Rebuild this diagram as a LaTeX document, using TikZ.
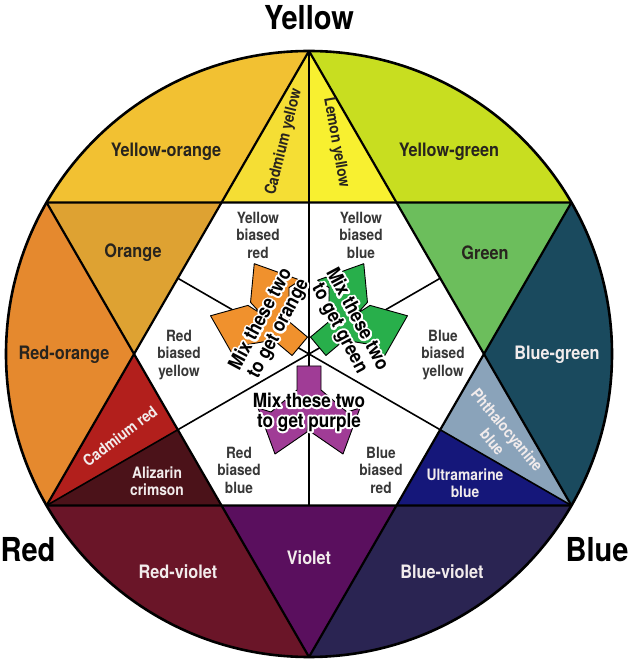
\documentclass[tikz,border=0pt]{standalone}
\usepackage{fontspec}
\setmainfont{TeX Gyre Heros}
\newfontfamily\headfont{TeX Gyre Heros}[FakeStretch=0.88]
\definecolor{cYO}{RGB}{242,193,50}
\definecolor{cCY}{RGB}{245,222,52}
\definecolor{cLY}{RGB}{248,240,48}
\definecolor{cYG}{RGB}{200,222,32}
\definecolor{cOR}{RGB}{222,162,50}
\definecolor{cGR}{RGB}{108,190,92}
\definecolor{cRO}{RGB}{229,137,46}
\definecolor{cBG}{RGB}{26,74,94}
\definecolor{cCR}{RGB}{178,31,28}
\definecolor{cAC}{RGB}{75,18,25}
\definecolor{cPB}{RGB}{138,163,186}
\definecolor{cUB}{RGB}{21,23,122}
\definecolor{cRV}{RGB}{106,21,40}
\definecolor{cVI}{RGB}{90,15,94}
\definecolor{cBV}{RGB}{42,36,82}
\definecolor{arrO}{RGB}{240,145,45}
\definecolor{arrG}{RGB}{40,175,75}
\definecolor{arrP}{RGB}{160,60,150}
\definecolor{txtdark}{RGB}{40,36,30}
\definecolor{txtgray}{RGB}{55,55,55}
\definecolor{txtlight}{RGB}{242,236,236}
\newcommand\halotext[1]{\rlap{\special{pdf:literal direct 1 Tr 1 1 1 RG 4 w 1 j 1 J}#1\special{pdf:literal direct 0 Tr 0 0 0 RG}}#1}
\begin{document}
\begin{tikzpicture}[x=1pt,y=1pt,
  edge/.style={draw=black,line width=2.2pt,line join=round},
  thinline/.style={draw=black,line width=1.6pt},
  lab/.style={font=\headfont\bfseries\fontsize{18.5}{20}\selectfont,text=txtdark,align=center,inner sep=0pt},
  small/.style={font=\headfont\bfseries\fontsize{15.7}{17}\selectfont,align=center,inner sep=0pt},
  bias/.style={font=\headfont\bfseries\fontsize{15.5}{17.5}\selectfont,text=txtgray,align=center,inner sep=0pt},
  primary/.style={font=\headfont\bfseries\fontsize{33}{36}\selectfont,text=black,inner sep=0pt},
  mix/.style={font=\headfont\bfseries\fontsize{19.5}{20}\selectfont,align=center,inner sep=0pt},
  arrowshape/.style={draw=black,line width=0.9pt,line join=round},
  fork/.pic={\path[pic actions] (12,-12) -- (36,-12) -- (58,-38) -- (54,-51) -- (100,-34) -- (78,-2) -- (63,0) -- (78,2) -- (100,34) -- (54,51) -- (58,38) -- (36,12) -- (12,12) -- cycle;}
]
\useasboundingbox (-309,-306) rectangle (321,354);
\fill[white] (-309,-306) rectangle (321,354);
\def\rad{303}
\def\hexr{174.93}
\def\apo{151.5}
% outer segments
\fill[cYO] (90:\rad) arc[start angle=90,end angle=150,radius=\rad] -- (120:\hexr) -- cycle;
\fill[cRO] (150:\rad) arc[start angle=150,end angle=210,radius=\rad] -- (180:\hexr) -- cycle;
\fill[cRV] (210:\rad) arc[start angle=210,end angle=270,radius=\rad] -- (240:\hexr) -- cycle;
\fill[cBV] (270:\rad) arc[start angle=270,end angle=330,radius=\rad] -- (300:\hexr) -- cycle;
\fill[cBG] (330:\rad) arc[start angle=330,end angle=390,radius=\rad] -- (0:\hexr) -- cycle;
\fill[cYG] (30:\rad) arc[start angle=30,end angle=90,radius=\rad] -- (60:\hexr) -- cycle;
% star points
\fill[cCY] (90:\rad) -- (120:\hexr) -- (90:\apo) -- cycle;
\fill[cLY] (90:\rad) -- (90:\apo) -- (60:\hexr) -- cycle;
\fill[cOR] (150:\rad) -- (180:\hexr) -- (120:\hexr) -- cycle;
\fill[cCR] (210:\rad) -- (180:\hexr) -- (210:\apo) -- cycle;
\fill[cAC] (210:\rad) -- (210:\apo) -- (240:\hexr) -- cycle;
\fill[cVI] (270:\rad) -- (240:\hexr) -- (300:\hexr) -- cycle;
\fill[cUB] (330:\rad) -- (300:\hexr) -- (330:\apo) -- cycle;
\fill[cPB] (330:\rad) -- (330:\apo) -- (0:\hexr) -- cycle;
\fill[cGR] (30:\rad) -- (0:\hexr) -- (60:\hexr) -- cycle;
% lines
\draw[thinline] (0,0) -- (90:\rad);
\draw[thinline] (0,0) -- (210:\rad);
\draw[thinline] (0,0) -- (330:\rad);
\draw[thinline] (0,0) -- (30:\apo);
\draw[thinline] (0,0) -- (150:\apo);
\draw[thinline] (0,0) -- (270:\apo);
\draw[edge] (90:\rad) -- (210:\rad) -- (330:\rad) -- cycle;
\draw[edge] (270:\rad) -- (150:\rad) -- (30:\rad) -- cycle;
\draw[line width=2.6pt] (0,0) circle[radius=\rad];
% arrows
\pic[arrowshape,fill=arrO,rotate=140] (forkO) at (0,0) {fork};
\pic[arrowshape,fill=arrG,rotate=40] (forkG) at (0,0) {fork};
\pic[arrowshape,fill=arrP,rotate=270] (forkP) at (0,0) {fork};
% primary labels
\node[primary] (tY) at (0,336) {Yellow};
\node[primary] (tR) at (-281,-196) {Red};
\node[primary] (tB) at (288,-196) {Blue};
% region labels
\node[lab] (lYO) at (-143,202) {Yellow-orange};
\node[lab] (lYG) at (140,202) {Yellow-green};
\node[small,text=txtdark,rotate=76] (lCY) at (-25,212) {Cadmium yellow};
\node[small,text=txtdark,rotate=-80] (lLY) at (27,211) {Lemon yellow};
\node[lab] (lOR) at (-176,101) {Orange};
\node[lab] (lGR) at (176,101) {Green};
\node[lab] (lRO) at (-245,-1) {Red-orange};
\node[lab,text=txtlight] (lBG) at (248,-1) {Blue-green};
\node[small,text=txtlight,rotate=37] (lCR) at (-189,-82) {Cadmium red};
\node[small,text=txtlight] (lAC) at (-152,-127) {Alizarin\\crimson};
\node[small,text=txtlight,rotate=-50,font=\headfont\bfseries\fontsize{15.7}{19}\selectfont] (lPB) at (191,-82) {Phthalocyanine\\blue};
\node[small,text=txtlight] (lUB) at (156,-129) {Ultramarine\\blue};
\node[lab,text=txtlight] (lRV) at (-131,-218) {Red-violet};
\node[lab,text=txtlight] (lVI) at (0,-204) {Violet};
\node[lab,text=txtlight] (lBV) at (133,-218) {Blue-violet};
% white sector labels
\node[bias] (bYR) at (-51,119) {Yellow\\biased\\red};
\node[bias] (bYB) at (52,119) {Yellow\\biased\\blue};
\node[bias] (bRY) at (-130,-1) {Red\\biased\\yellow};
\node[bias] (bBY) at (134,-1) {Blue\\biased\\yellow};
\node[bias] (bRB) at (-70,-116) {Red\\biased\\blue};
\node[bias] (bBR) at (72,-116) {Blue\\biased\\red};
% mix texts with white halo
\node[mix,rotate=62] (mO) at (-39,30) {\halotext{Mix these two}\\\halotext{to get orange}};
\node[mix,rotate=-62] (mG) at (39,30) {\halotext{Mix these two}\\\halotext{to get green}};
\node[mix] (mP) at (0,-58) {\halotext{Mix these two}\\\halotext{to get purple}};
\end{tikzpicture}
\end{document}
